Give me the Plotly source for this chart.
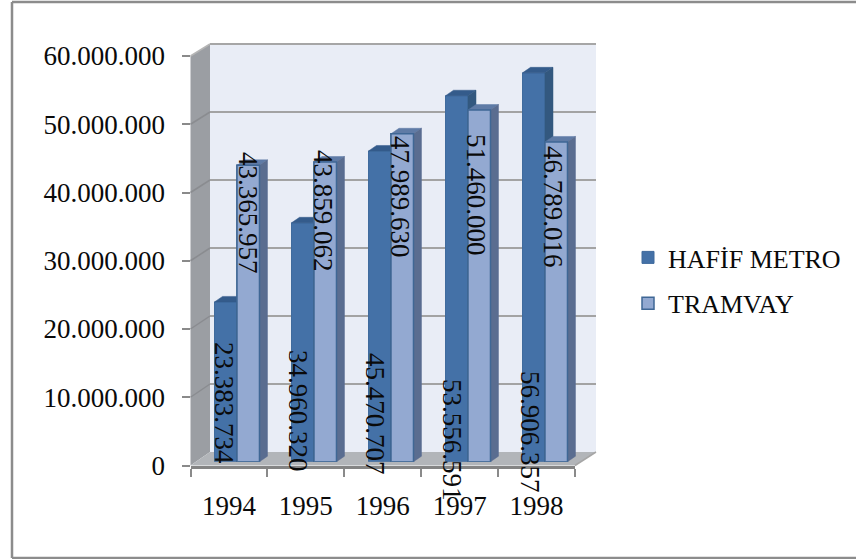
import plotly.graph_objects as go

YEARS = ["1994", "1995", "1996", "1997", "1998"]
HAFIF_METRO = [23383734, 34960320, 45470707, 53556591, 56906357]
TRAMVAY = [43365957, 43859062, 47989630, 51460000, 46789016]
HAFIF_LABELS = ["23.383.734", "34.960.320", "45.470.707", "53.556.591", "56.906.357"]
TRAMVAY_LABELS = ["43.365.957", "43.859.062", "47.989.630", "51.460.000", "46.789.016"]

W, H = 856, 559
FONT = "Liberation Serif"
FS = 27
INK = "#0a0a0a"
YMAX = 60000000
C1, C1S, C1T = "#4471a7", "#33587f", "#345b8b"
C2, C2S, C2T = "#93a9d1", "#5a6d90", "#5f7ba6"
EDGE1, EDGE2 = "#3f6a9c", "#3f6795"

# pixel frames of the three planes: left, right, top, bottom
BACK = (210, 596, 44, 452)
MID = (198.5, 583.5, 51.7, 461.7)
FRONT = (190.5, 575, 56, 465.5)

def dx(f):
    return [f[0] / W, f[1] / W]

def dy(f):
    return [1 - f[3] / H, 1 - f[2] / H]

def px(x):
    return x / W

def py(y):
    return 1 - y / H

fig = go.Figure()

# back plane: carries the gridlines
fig.add_trace(go.Scatter(x=YEARS, y=HAFIF_METRO, mode="none", showlegend=False,
                         hoverinfo="skip", xaxis="x", yaxis="y"))
# bars
fig.add_trace(go.Bar(x=list(range(5)), y=HAFIF_METRO, name="HAFİF METRO",
                     legendgroup="a", marker=dict(color=C1, line=dict(color=EDGE1, width=1)),
                     xaxis="x2", yaxis="y2"))
fig.add_trace(go.Bar(x=list(range(5)), y=TRAMVAY, name="TRAMVAY",
                     legendgroup="b", marker=dict(color=C2, line=dict(color=EDGE2, width=1.5)),
                     xaxis="x2", yaxis="y2"))
# front plane: carries the axes
fig.add_trace(go.Scatter(x=YEARS, y=TRAMVAY, mode="none", showlegend=False,
                         hoverinfo="skip", xaxis="x3", yaxis="y3"))

shapes = []

def poly(points, fill, line=None, width=0):
    path = "M" + " L".join(f"{px(a):.5f},{py(b):.5f}" for a, b in points) + " Z"
    shapes.append(dict(type="path", path=path, xref="paper", yref="paper", fillcolor=fill,
                       line=dict(color=line or fill, width=width), layer="below"))

def seg(x0, y0, x1, y1, color, width):
    shapes.append(dict(type="line", xref="paper", yref="paper", x0=px(x0), y0=py(y0),
                       x1=px(x1), y1=py(y1), line=dict(color=color, width=width), layer="below"))

# chart frame
seg(12, 2, 856, 2, "#8c8c8c", 2.5)
seg(12, 2, 12, 558, "#8c8c8c", 2.5)
seg(12, 558, 856, 558, "#8c8c8c", 2.5)
# walls and floor
poly([(BACK[0], BACK[2]), (BACK[1], BACK[2]), (BACK[1], BACK[3]), (BACK[0], BACK[3])], "#e9edf6")
poly([(FRONT[0], FRONT[2]), (BACK[0], BACK[2]), (BACK[0], BACK[3]), (FRONT[0], FRONT[3])], "#9b9ea3")
poly([(FRONT[0], FRONT[3]), (BACK[0], BACK[3]), (BACK[1], BACK[3]), (FRONT[1], FRONT[3])], "#b2b5b9")
seg(BACK[0], BACK[2], BACK[1], BACK[2], "#a6a6a6", 2)
seg(FRONT[0], FRONT[2], BACK[0], BACK[2], "#b5b5b5", 1.5)
seg(FRONT[1], FRONT[3], BACK[1], BACK[3], "#a6a6a6", 1.5)
for k in range(1, 6):
    f = k / 6
    yf = FRONT[3] + (FRONT[2] - FRONT[3]) * f
    yb = BACK[3] + (BACK[2] - BACK[3]) * f
    seg(FRONT[0], yf, BACK[0], yb, "#8a8c90", 1.5)

# bar tops and side faces, built from the values on the bars' own axes
BAR_W = 0.292
DEPTH_X = 8 / 77
DEPTH_Y = 5.5 / ((MID[3] - MID[2]) / YMAX)

def face(path, fill):
    shapes.append(dict(type="path", path=path, xref="x2", yref="y2", fillcolor=fill,
                       line=dict(color=fill, width=0.5), layer="above"))

for i in range(5):
    for series, off, cs, ct in ((HAFIF_METRO, -BAR_W, C1S, C1T), (TRAMVAY, 0, C2S, C2T)):
        v = series[i]
        a = i + off
        b = a + BAR_W
        face(f"M{a},{v} L{a + DEPTH_X},{v + DEPTH_Y} L{b + DEPTH_X},{v + DEPTH_Y} L{b},{v} Z", ct)
        face(f"M{b},{v} L{b + DEPTH_X},{v + DEPTH_Y} L{b + DEPTH_X},{DEPTH_Y} L{b},0 Z", cs)

# light bar front face sits over the dark bar's side face
for i in range(5):
    a = i
    b = a + BAR_W
    shapes.append(dict(type="rect", xref="x2", yref="y2", x0=a, x1=b, y0=0, y1=TRAMVAY[i],
                       fillcolor=C2, line=dict(color=EDGE2, width=1.5), layer="above"))

# label centres in pixels
HAFIF_X = [224, 298, 375, 452, 530]
HAFIF_Y = [403, 411, 414, 440, 432]
TRAMVAY_X = [248, 323, 400, 476, 553]
TRAMVAY_Y = [213, 211, 197, 195, 207]
annotations = []
for labels, xs, ys in ((HAFIF_LABELS, HAFIF_X, HAFIF_Y), (TRAMVAY_LABELS, TRAMVAY_X, TRAMVAY_Y)):
    for t, a, b in zip(labels, xs, ys):
        annotations.append(dict(text=t, x=px(a), y=py(b), xref="paper", yref="paper",
                                showarrow=False, textangle=90, xanchor="center", yanchor="middle",
                                font=dict(family=FONT, size=FS, color=INK)))

hidden = dict(showgrid=False, zeroline=False, showticklabels=False, ticks="", showline=False)

fig.update_layout(
    width=W, height=H, margin=dict(l=0, r=0, t=0, b=0, pad=0, autoexpand=False), autosize=False,
    paper_bgcolor="#ffffff", plot_bgcolor="rgba(0,0,0,0)",
    barmode="group", bargap=0.416, bargroupgap=0,
    font=dict(family=FONT, size=FS, color=INK),
    shapes=shapes, annotations=annotations, hovermode=False,
    legend=dict(x=px(628), y=py(234), xanchor="left", yanchor="top", traceorder="grouped",
                tracegroupgap=9, bgcolor="rgba(0,0,0,0)", borderwidth=0,
                font=dict(family=FONT, size=26, color=INK)),
    xaxis=dict(domain=dx(BACK), type="category", categoryorder="array", categoryarray=YEARS,
               range=[-0.5, 4.5], anchor="y", **hidden),
    yaxis=dict(domain=dy(BACK), range=[0, YMAX], dtick=10000000, anchor="x", showgrid=True,
               gridcolor="#a3a3a3", gridwidth=2, zeroline=False, showticklabels=False,
               ticks="", showline=False),
    xaxis2=dict(domain=dx(MID), range=[-0.5, 4.5], anchor="y2", **hidden),
    yaxis2=dict(domain=dy(MID), range=[0, YMAX], anchor="x2", **hidden),
    xaxis3=dict(domain=dx(FRONT), type="category", categoryorder="array", categoryarray=YEARS,
                range=[-0.5, 4.5], anchor="y3", tickson="boundaries", ticks="outside", ticklen=8,
                tickwidth=2, tickcolor="#8a8a8a", showline=True, linecolor="#848484", linewidth=3,
                showgrid=False, zeroline=False, ticklabelstandoff=14,
                tickfont=dict(family=FONT, size=27, color=INK)),
    yaxis3=dict(domain=dy(FRONT), range=[0, YMAX], dtick=10000000, anchor="x3", ticks="outside",
                ticklen=8, tickwidth=2, tickcolor="#8a8a8a", showline=False, showgrid=False,
                zeroline=False, tickformat=",d", separatethousands=True, ticklabelstandoff=11,
                tickfont=dict(family=FONT, size=27, color=INK)),
    separators=",.",
)

fig.write_html("out.html", config=dict(displayModeBar=False),
               post_script="document.body.style.margin=0;document.body.style.overflow='hidden';")
